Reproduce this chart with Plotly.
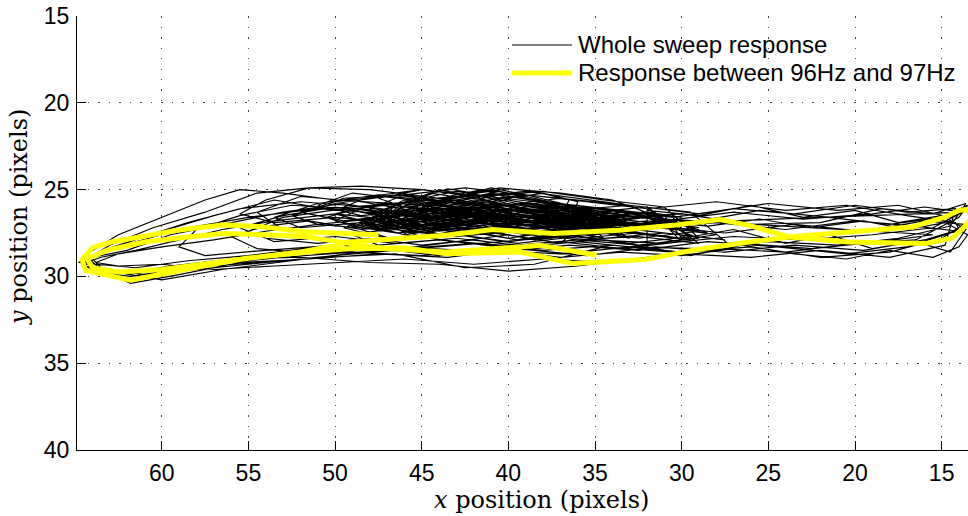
import plotly.graph_objects as go

# ---- tracked centre position of the target over the whole sweep (pixels) ----
# dense small-amplitude cycles around the rest position
core_x = [
    34.0, 37.0, 40.0, 43.0, 46.0, 47.5, 45.0, 42.0, 39.0, 36.0,
    33.5, 36.0, 39.0, 41.5, 44.0, 47.0, 48.5, 46.0, 43.0, 40.0, 37.0,
    34.5, 37.5, 40.0, 42.5, 45.0, 46.5, 44.0, 41.0, 38.0, 35.5,
    33.0, 36.5, 39.5, 42.0, 44.5, 46.0, 43.5, 40.5, 37.5, 34.5,
    35.0, 38.0, 40.5, 43.0, 45.5, 48.0, 47.0, 44.0, 41.0, 38.0, 35.5,
    32.5, 35.5, 38.5, 41.0, 43.5, 46.5, 47.5, 45.0, 42.0, 39.0, 36.0, 33.0,
    36.0, 38.5, 41.0, 43.0, 45.0, 44.5, 42.0, 39.5, 37.0,
    34.0, 37.0, 39.5, 42.5, 45.5, 47.0, 44.5, 41.5, 38.5, 35.0,
    33.0, 36.0, 38.5, 41.0, 43.5, 46.0, 48.0, 46.5, 43.5, 40.5, 37.5, 34.5,
    35.5, 38.0, 40.0, 42.0, 44.5, 46.0, 43.0, 40.0, 37.0,
    34.0, 36.5, 39.0, 41.5, 44.0, 46.5, 47.5, 45.0, 42.5, 39.5, 36.5,
    36.5, 39.0, 41.0, 42.5, 44.0, 45.5, 44.0, 41.5, 39.0,
    33.5, 36.0, 38.5, 41.0, 43.5, 46.0, 47.0, 44.5, 41.5, 38.5, 35.5,
    34.5, 37.0, 39.5, 42.0, 44.5, 47.0, 48.5, 46.0, 43.0, 40.0, 37.0,
    35.0, 37.5, 40.0, 42.5, 45.0, 46.0, 43.5, 41.0, 38.0,
    33.0, 36.0, 39.0, 41.5, 44.0, 46.5, 45.5, 42.5, 39.5, 36.5,
    36.0, 38.5, 40.5, 42.5, 44.5, 46.5, 44.0, 41.5, 38.5,
    34.0, 37.0, 40.0, 43.0, 46.0, 48.0, 46.0, 43.0, 40.0, 37.0,
    35.5, 38.0, 40.5, 43.0, 45.5, 47.0, 44.5, 41.5, 38.5,
    33.5, 36.5, 39.5, 42.0, 44.5, 47.0, 48.0, 45.5, 42.5, 39.5, 36.5,
    36.0, 38.0, 40.0, 41.5, 43.5, 45.0, 43.0, 40.5, 38.0,
    34.5, 37.0, 39.5, 42.0, 44.5, 46.5, 44.0, 41.0, 38.0, 35.0,
    33.0, 36.0, 38.5, 41.0, 43.5, 46.0, 47.5, 45.0, 42.0, 39.0, 36.0,
    35.0, 37.5, 40.0, 42.5, 45.0, 47.0, 45.5, 42.5, 39.5, 36.5,
    34.0, 36.5, 39.0, 41.5, 44.0, 46.0, 43.5, 40.5, 37.5,
    36.5, 38.5, 40.5, 42.0, 43.5, 45.5, 44.0, 41.5, 39.0,
    33.5, 36.0, 38.5, 41.0, 43.5, 46.0, 47.5, 45.0, 42.0, 39.0, 36.0,
    35.0, 37.5, 40.0, 42.5, 45.0, 46.5, 44.0, 41.0, 38.0, 35.5,
]
core_y = [
    26.9, 26.3, 25.8, 26.2, 26.0, 26.7, 27.3, 27.0, 27.5, 27.2,
    27.6, 26.8, 26.1, 25.4, 25.9, 26.3, 27.0, 27.6, 27.2, 27.8, 27.4,
    27.0, 25.9, 25.2, 25.7, 25.4, 26.2, 26.8, 26.5, 27.0, 26.7,
    27.1, 26.6, 26.0, 25.6, 26.1, 26.9, 27.4, 27.1, 27.7, 27.3,
    26.4, 26.0, 25.5, 25.1, 25.6, 26.4, 27.1, 26.7, 27.3, 26.9, 27.5,
    27.0, 26.5, 26.7, 26.0, 26.4, 25.9, 26.8, 27.5, 27.1, 27.6, 27.2, 27.8,
    26.2, 25.6, 25.0, 25.4, 25.9, 26.6, 26.2, 26.8, 26.4,
    27.4, 26.9, 26.4, 26.8, 26.2, 26.9, 27.6, 27.3, 27.9, 27.5,
    26.7, 26.2, 25.6, 25.2, 25.7, 25.3, 26.1, 26.9, 26.5, 27.1, 26.6, 27.2,
    26.8, 26.1, 25.7, 25.3, 25.8, 26.5, 27.0, 26.6, 27.1,
    27.2, 26.7, 27.0, 26.4, 26.8, 26.3, 27.0, 27.7, 27.3, 27.9, 27.5,
    25.9, 25.3, 24.9, 25.3, 25.0, 25.7, 26.3, 26.0, 26.5,
    26.5, 26.0, 26.3, 25.8, 26.2, 25.7, 26.5, 27.2, 26.8, 27.3, 26.9,
    27.8, 27.2, 26.7, 27.1, 26.6, 26.2, 26.9, 27.6, 28.0, 27.6, 28.1,
    26.3, 25.7, 25.9, 25.4, 25.8, 26.6, 27.0, 26.5, 26.9,
    27.5, 27.0, 26.5, 26.1, 26.6, 27.2, 27.8, 27.4, 27.9, 27.4,
    26.1, 25.5, 25.1, 25.5, 25.2, 25.9, 26.4, 26.1, 26.6,
    26.6, 26.2, 26.5, 26.0, 26.3, 27.0, 27.4, 27.0, 27.4, 27.0,
    27.0, 26.5, 26.0, 25.6, 26.0, 26.8, 27.3, 26.9, 27.4,
    26.8, 26.3, 25.8, 26.2, 25.7, 26.1, 26.9, 27.5, 27.2, 27.7, 27.2,
    25.7, 25.2, 25.5, 25.0, 25.4, 26.1, 26.6, 26.2, 26.7,
    27.3, 26.8, 26.2, 26.6, 26.1, 26.8, 27.4, 27.0, 27.5, 27.1,
    26.4, 25.9, 26.2, 25.7, 26.0, 25.6, 26.3, 27.0, 26.6, 27.1, 26.7,
    26.9, 26.4, 25.9, 25.3, 25.8, 26.6, 27.2, 26.8, 27.3, 26.9,
    27.6, 27.1, 26.6, 26.9, 26.4, 27.0, 27.7, 27.3, 27.8,
    25.6, 25.1, 24.9, 25.2, 24.95, 25.6, 26.2, 25.9, 26.3,
    27.1, 26.6, 26.9, 26.3, 26.7, 26.2, 26.9, 27.5, 27.1, 27.6, 27.2,
    26.2, 25.8, 25.4, 25.8, 25.5, 26.2, 26.8, 26.4, 26.9, 26.5,
]

# somewhat larger cycles filling the band between x = 29 and x = 52
spread_x = [
    30.5, 34.0, 37.5, 41.0, 44.5, 48.0, 50.5, 49.0, 45.5, 42.0, 38.5, 35.0, 31.5,
    31.5, 35.0, 38.5, 42.0, 45.5, 49.0, 51.0, 48.5, 45.0, 41.5, 38.0, 34.5, 31.0,
    30.0, 33.5, 37.0, 40.5, 44.0, 47.5, 49.5, 47.0, 43.5, 40.0, 36.5, 33.0, 29.5,
    32.0, 35.5, 39.0, 42.5, 46.0, 49.5, 51.5, 49.0, 45.5, 42.0, 38.5, 35.0, 32.0,
    29.0, 32.5, 36.0, 39.5, 43.0, 46.5, 49.0, 47.5, 44.0, 40.5, 37.0, 33.5, 30.0,
    31.0, 34.5, 38.0, 41.5, 45.0, 48.5, 50.0, 47.5, 44.0, 40.5, 37.0, 33.5, 30.5,
    33.0, 36.0, 39.0, 42.0, 45.0, 48.0, 49.5, 47.0, 44.0, 41.0, 38.0, 35.0, 32.0,
    30.0, 33.5, 37.0, 40.5, 44.0, 47.5, 50.0, 48.0, 44.5, 41.0, 37.5, 34.0, 30.5,
    28.5, 32.0, 35.5, 39.0, 42.5, 46.0, 48.5, 46.5, 43.0, 39.5, 36.0, 32.5, 29.0,
    32.5, 36.0, 39.5, 43.0, 46.5, 50.0, 52.0, 49.5, 46.0, 42.5, 39.0, 35.5, 32.0,
    29.5, 33.0, 36.5, 40.0, 43.5, 47.0, 49.0, 46.5, 43.0, 39.5, 36.0, 32.5, 29.0,
    34.0, 37.0, 40.0, 42.5, 45.0, 47.5, 46.0, 43.0, 40.0, 37.0, 34.0,
]
spread_y = [
    27.3, 26.9, 26.4, 26.0, 25.6, 25.9, 26.6, 27.1, 26.8, 27.3, 27.0, 27.6, 27.2,
    26.7, 26.3, 25.7, 25.3, 25.6, 25.2, 25.9, 26.5, 26.2, 26.7, 26.3, 26.8, 26.5,
    27.8, 27.4, 27.0, 26.6, 27.0, 26.5, 27.2, 27.8, 27.5, 28.0, 27.6, 28.1, 27.7,
    26.1, 25.7, 25.3, 24.9, 25.3, 25.5, 26.2, 26.0, 25.7, 26.1, 25.8, 26.3, 26.0,
    28.1, 27.7, 27.9, 27.4, 27.7, 27.2, 27.6, 28.2, 27.9, 28.3, 28.0, 28.4, 28.0,
    27.0, 26.6, 26.9, 26.3, 26.6, 26.1, 26.8, 27.3, 27.0, 27.4, 27.1, 27.5, 27.1,
    25.9, 25.5, 25.1, 25.4, 25.0, 25.4, 26.0, 26.4, 26.1, 26.5, 26.2, 26.6, 26.3,
    26.6, 26.2, 26.5, 25.9, 26.2, 25.8, 26.4, 26.9, 26.6, 27.0, 26.7, 27.1, 26.8,
    27.5, 27.1, 26.7, 27.0, 26.5, 26.8, 27.3, 27.9, 27.6, 28.1, 27.7, 28.2, 27.8,
    26.4, 26.0, 25.4, 25.8, 25.3, 25.7, 26.3, 26.8, 26.4, 26.9, 26.5, 27.0, 26.6,
    27.9, 27.5, 27.1, 26.7, 26.3, 26.6, 27.1, 27.5, 27.2, 27.7, 27.3, 27.8, 27.4,
    25.6, 25.2, 24.95, 25.3, 25.0, 25.5, 26.0, 25.7, 26.1, 25.8, 26.2,
]

# medium-amplitude cycles
mid_x = [
    29.0, 32.0, 35.0, 38.0, 41.0, 44.0, 47.0, 50.0, 53.0, 55.5, 54.0, 51.0, 48.0, 45.0, 42.0, 39.0, 36.0, 33.0, 30.0,
    28.0, 31.0, 34.5, 38.0, 41.5, 45.0, 48.5, 52.0, 54.5, 53.0, 50.0, 46.5, 43.0, 39.5, 36.0, 32.5, 29.5,
    30.5, 33.5, 37.0, 40.5, 44.0, 47.5, 51.0, 53.5, 52.0, 48.5, 45.0, 41.5, 38.0, 34.5, 31.0,
    27.5, 31.0, 34.5, 38.0, 41.5, 45.0, 48.5, 51.5, 54.0, 56.0, 54.5, 51.0, 47.5, 44.0, 40.5, 37.0, 33.5, 30.0, 27.0,
    29.5, 33.0, 36.5, 40.0, 43.5, 47.0, 50.0, 52.5, 51.0, 48.0, 44.5, 41.0, 37.5, 34.0, 30.5,
    28.5, 32.0, 35.5, 39.0, 42.5, 46.0, 49.5, 53.0, 55.0, 53.5, 50.0, 46.5, 43.0, 39.5, 36.0, 32.5, 29.0,
    31.0, 34.5, 38.0, 41.5, 45.0, 48.5, 51.5, 54.0, 55.5, 53.5, 50.0, 46.5, 43.0, 39.5, 36.0, 32.5,
]
mid_y = [
    27.2, 26.8, 27.1, 26.5, 26.8, 26.2, 26.6, 26.0, 26.5, 27.2, 27.8, 28.1, 27.8, 28.2, 27.9, 28.3, 28.0, 28.3, 27.9,
    27.6, 27.2, 26.7, 26.2, 25.8, 26.3, 25.7, 25.4, 26.3, 27.3, 27.6, 27.3, 27.7, 27.4, 27.8, 27.5, 27.9,
    26.6, 26.2, 25.8, 25.3, 25.7, 25.3, 25.8, 26.6, 27.2, 26.9, 27.3, 26.9, 27.4, 27.1, 27.5,
    27.9, 27.5, 27.8, 27.2, 27.5, 27.0, 27.3, 26.8, 27.1, 27.7, 28.4, 28.7, 28.4, 28.8, 28.5, 28.9, 28.6, 28.8, 28.4,
    26.3, 25.9, 26.2, 25.6, 25.9, 25.4, 25.8, 26.5, 27.0, 26.7, 27.1, 26.8, 27.2, 26.9, 27.3,
    27.4, 27.0, 26.6, 26.9, 26.4, 26.7, 26.1, 26.6, 27.4, 28.0, 27.7, 28.1, 27.8, 28.2, 27.9, 28.2, 27.8,
    26.0, 25.6, 25.1, 25.4, 25.0, 24.8, 24.9, 25.6, 26.4, 26.9, 26.6, 26.9, 26.5, 26.9, 26.6, 27.0,
]

# full-width cycles near resonance
wide_x = [
    13.8, 16.0, 19.0, 23.0, 27.0, 31.0, 35.0, 39.0, 43.0, 47.0, 51.0, 55.0, 58.5, 61.5, 63.8,
    64.6, 63.2, 60.5, 57.0, 53.0, 49.0, 45.0, 41.0, 37.0, 33.0, 29.0, 25.0, 21.0, 17.5, 14.5,
    13.6, 15.5, 18.5, 22.0, 26.0, 30.0, 34.0, 38.0, 42.0, 46.0, 50.0, 53.5, 57.0, 60.0, 62.8,
    64.2, 63.5, 61.8, 59.0, 55.5, 51.5, 47.5, 43.5, 39.5, 35.5, 31.5, 27.5, 23.5, 19.5, 16.0, 14.0,
    14.2, 17.0, 20.5, 24.0, 28.0, 32.0, 36.0, 40.0, 44.0, 48.0, 51.5, 54.5, 57.5, 60.5, 63.0,
    64.5, 64.0, 62.0, 59.5, 56.0, 52.0, 48.0, 44.0, 40.0, 36.0, 32.0, 28.0, 24.0, 20.0, 16.5, 14.0,
    13.5, 15.0, 18.0, 21.5, 25.5, 29.5, 33.5, 37.5, 41.5, 45.5, 49.5, 53.0, 56.5, 59.5, 62.0,
    64.0, 64.4, 63.0, 60.0, 56.5, 52.5, 48.5, 44.5, 40.5, 36.5, 32.5, 28.5, 24.5, 20.5, 17.0, 14.5,
    14.0, 16.5, 20.0, 24.0, 28.0, 32.0, 36.0, 40.0, 44.0, 48.0, 52.0, 55.5, 58.5, 61.0, 63.2,
    64.8, 63.8, 61.5, 58.5, 55.0, 51.0, 47.0, 43.0, 39.0, 35.0, 31.0, 27.0, 23.0, 19.0, 15.5, 13.6,
    14.5, 17.5, 21.0, 25.0, 29.0, 33.0, 37.0, 41.0, 45.0, 49.0, 52.5, 55.5, 58.0,
    59.0, 57.5, 54.0, 50.0, 46.0, 42.0, 38.0, 34.0, 30.0, 26.0, 22.0, 18.0, 15.0,
    13.7, 16.0, 19.5, 23.5, 27.5, 31.5, 35.5, 39.5, 43.5, 47.5, 51.0, 54.0, 57.0, 60.0, 62.5,
    63.8, 62.5, 60.0, 57.0, 53.5, 50.0, 46.0, 42.0, 38.0, 34.0, 30.0, 26.0, 22.0, 18.0, 14.8,
    14.2, 17.0, 20.0, 23.5, 27.0, 30.5, 34.0, 38.0, 42.0, 46.0, 50.0, 53.5, 56.5, 59.0, 61.5,
    63.5, 64.6, 63.6, 61.8, 58.5, 54.5, 50.5, 46.5, 42.5, 38.5, 34.5, 30.5, 26.5, 22.5, 18.5, 15.5,
    50.0, 53.0, 55.5, 57.5, 60.0, 62.5, 64.3, 63.5, 61.0, 58.0, 55.0, 52.0, 49.0,
]
wide_y = [
    26.3, 26.0, 26.4, 26.7, 26.3, 26.8, 26.2, 26.5, 26.0, 26.4, 26.1, 26.6, 27.2, 28.0, 28.8,
    29.3, 29.9, 29.7, 29.3, 28.9, 28.6, 28.8, 28.5, 28.7, 28.3, 28.4, 28.0, 28.2, 27.8, 27.1,
    25.8, 26.4, 26.1, 26.9, 27.0, 26.4, 26.6, 25.9, 26.3, 25.8, 26.2, 25.6, 26.5, 27.4, 28.3,
    29.0, 29.6, 30.4, 29.9, 29.2, 29.0, 28.7, 28.9, 28.4, 28.8, 28.3, 28.6, 28.2, 28.5, 27.9, 27.3,
    26.9, 26.5, 25.9, 26.2, 25.7, 26.1, 25.6, 25.2, 25.5, 25.0, 24.9, 25.2, 26.3, 27.2, 28.2,
    29.1, 29.5, 29.8, 29.4, 29.0, 28.9, 29.2, 29.3, 29.7, 29.4, 28.9, 28.4, 28.6, 28.1, 27.9, 26.6,
    25.9, 26.6, 27.0, 26.6, 26.2, 26.9, 26.3, 26.8, 26.1, 26.5, 25.8, 26.3, 27.0, 27.6, 28.5,
    28.9, 29.4, 29.7, 30.2, 29.6, 29.1, 28.6, 28.4, 28.6, 28.2, 28.5, 28.0, 28.3, 28.7, 28.3, 27.5,
    27.4, 27.1, 26.8, 27.3, 26.9, 27.2, 26.7, 26.2, 26.6, 26.0, 25.7, 26.1, 26.9, 27.7, 28.5,
    29.2, 29.3, 29.5, 29.1, 28.8, 28.3, 28.5, 28.0, 28.3, 27.9, 28.1, 27.7, 27.9, 27.6, 27.2, 26.2,
    26.6, 25.9, 26.2, 25.8, 26.4, 25.9, 25.5, 26.0, 25.6, 26.1, 25.9, 26.5, 27.3,
    28.3, 28.8, 28.5, 28.2, 28.4, 28.1, 28.5, 28.2, 28.6, 28.3, 28.9, 28.6, 27.8,
    27.0, 26.8, 27.4, 27.0, 27.5, 27.1, 27.6, 27.0, 26.9, 27.3, 27.0, 27.4, 27.9, 28.3, 28.7,
    29.2, 29.4, 29.3, 29.6, 29.4, 29.2, 29.0, 29.3, 29.0, 29.2, 28.7, 28.9, 28.5, 28.9, 28.2,
    26.1, 26.3, 25.9, 26.4, 26.1, 26.6, 26.2, 26.7, 26.3, 26.8, 26.4, 26.8, 27.3, 27.9, 28.5,
    28.9, 29.3, 29.8, 30.0, 29.5, 29.2, 28.9, 28.7, 29.5, 29.3, 28.3, 28.6, 28.1, 28.4, 28.0, 27.6,
    25.6, 25.2, 25.0, 25.6, 26.6, 27.6, 28.7, 29.5, 29.9, 29.6, 29.3, 29.0, 28.7,
]

# excursions towards the right-hand end of travel
right_x = [
    33.0, 30.0, 27.0, 24.0, 21.5, 19.0, 16.5, 14.5, 13.6, 15.0, 17.5, 20.0, 23.0, 26.0, 29.0, 32.0,
    32.0, 29.5, 26.5, 23.5, 20.5, 18.0, 15.5, 14.0, 13.5, 14.8, 17.0, 19.5, 22.5, 25.5, 28.5, 31.5,
]
right_y = [
    27.4, 27.8, 27.3, 28.1, 27.6, 28.4, 28.0, 28.6, 27.3, 26.5, 26.9, 26.2, 26.6, 25.9, 26.5, 26.2,
    28.3, 28.8, 28.2, 28.7, 29.0, 28.5, 28.9, 28.3, 27.6, 26.9, 27.3, 26.8, 27.2, 26.7, 27.1, 26.8,
]

# ---- response between 96 Hz and 97 Hz ----
band_x = [
    34.9, 38.2, 39.3, 40.5, 43.6, 47.2, 49.7, 51.8, 53.3, 56.4, 58.5, 61.0, 63.2, 64.3,
    64.0, 62.5, 60.0, 57.9, 55.0, 52.0, 49.1, 46.3, 43.6, 40.9, 38.8, 37.4, 33.6, 30.5,
    27.8, 26.1, 23.8, 20.4, 15.9, 14.4, 13.6, 13.2, 13.6, 14.0, 14.8, 16.7, 20.4, 23.8,
    26.1, 29.4, 32.1, 36.3, 39.3, 43.6, 46.0, 49.0, 51.6, 55.2, 57.9, 60.6, 61.8, 63.3,
    64.4, 64.6, 64.0, 62.9, 62.3, 59.1, 56.4, 54.1, 51.6, 49.5, 47.5,
]
band_y = [
    28.78, 28.2, 28.3, 28.4, 28.6, 28.4, 28.02, 27.7, 27.63, 27.53, 27.73, 28.02, 28.5, 29.0,
    29.5, 29.75, 29.6, 29.3, 28.95, 28.6, 28.02, 27.82, 27.63, 27.3, 27.44, 27.53, 27.34, 27.06,
    26.73, 27.06, 27.73, 28.02, 28.1, 27.8, 27.06, 26.5, 26.15, 26.2, 26.58, 27.15, 27.44, 27.73,
    28.02, 28.5, 29.03, 29.26, 28.6, 28.69, 28.35, 28.4, 28.6, 28.97, 29.46, 30.03, 30.22, 29.9,
    29.65, 29.03, 28.34, 28.02, 27.92, 27.34, 27.02, 27.15, 27.44, 27.5, 27.6,
]

x_ticks = [60, 55, 50, 45, 40, 35, 30, 25, 20, 15]
y_ticks = [15, 20, 25, 30, 35, 40]
x_limits = [64.89, 13.48]
y_limits = [40, 15]

sweep_name = "Whole sweep response"
band_name = "Response between 96Hz and 97Hz"

sweep_x = core_x + spread_x + mid_x + wide_x + right_x
sweep_y = core_y + spread_y + mid_y + wide_y + right_y
assert len(sweep_x) == len(sweep_y)
assert len(band_x) == len(band_y)

sans = "Liberation Sans, Arial, sans-serif"
tick_font = dict(family=sans, size=23, color="black")
title_font = dict(family="DejaVu Serif, serif", size=24, color="black")
key_font = dict(family=sans, size=24, color="black")

sweep_line = dict(color="black", width=1.15)
band_line = dict(color="#ffff00", width=5)

fig = go.Figure()
fig.add_trace(go.Scatter(x=sweep_x, y=sweep_y, mode="lines", line=sweep_line,
                         name=sweep_name, showlegend=False))
fig.add_trace(go.Scatter(x=band_x, y=band_y, mode="lines", line=band_line,
                         name=band_name, showlegend=False))

axis_common = dict(
    ticks="inside", ticklen=9, tickwidth=1, tickcolor="black",
    showline=True, linecolor="black", linewidth=1, mirror=False,
    showgrid=True, gridcolor="#444", gridwidth=1, griddash="1.5px,9px",
    zeroline=False, tickfont=tick_font,
)
fig.update_xaxes(range=x_limits, tickvals=x_ticks, ticklabelstandoff=2, **axis_common)
fig.update_yaxes(range=y_limits, tickvals=y_ticks, ticklabelstandoff=2, **axis_common)

# key in the upper right corner: short line sample followed by its label
key_rows = [(sweep_name, sweep_line, 0.9332), (band_name, band_line, 0.8687)]
key_shapes = []
key_labels = []
for label, style, ypos in key_rows:
    key_shapes.append(dict(type="line", xref="paper", yref="paper",
                           x0=0.4882, x1=0.5556, y0=ypos, y1=ypos, line=style))
    key_labels.append(dict(text=label, xref="paper", yref="paper",
                           x=0.5600, y=ypos, xanchor="left", yanchor="middle",
                           showarrow=False, font=key_font))

fig.update_layout(
    width=968, height=516,
    margin=dict(l=77, r=0, t=16, b=66),
    plot_bgcolor="white", paper_bgcolor="white",
    showlegend=False,
    shapes=key_shapes,
    annotations=key_labels + [
        dict(text="<i>x</i> position (pixels)", xref="paper", yref="paper",
             x=0.5208, y=-0.115, xanchor="center", yanchor="middle",
             showarrow=False, font=title_font),
        dict(text="<i>y</i> position (pixels)", xref="paper", yref="paper",
             x=-0.0651, y=0.537, xanchor="center", yanchor="middle",
             textangle=-90, showarrow=False, font=title_font),
    ],
)

fig.write_html("out.html")
